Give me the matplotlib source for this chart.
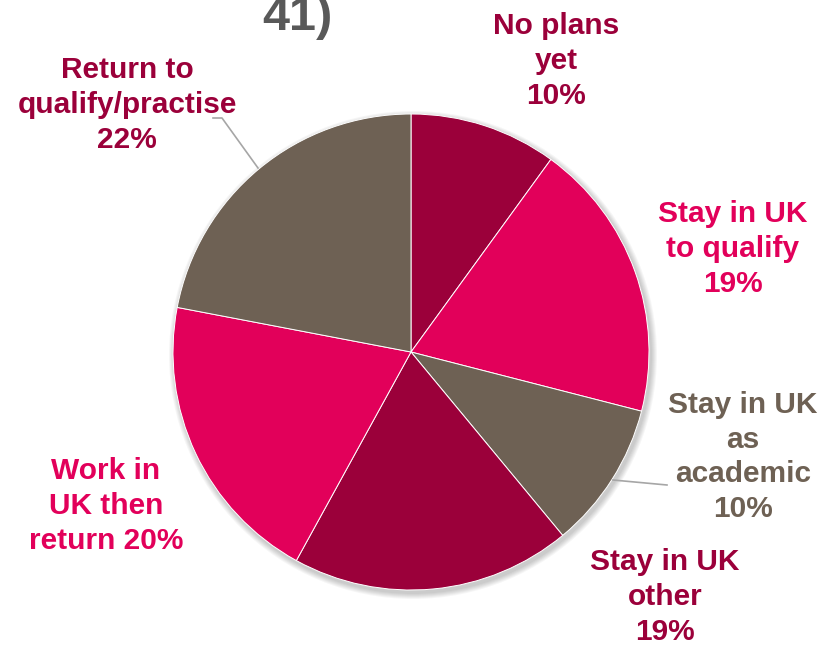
import numpy as np
import matplotlib.pyplot as plt
from matplotlib.patches import Circle

plt.rcParams["font.family"] = ["Liberation Sans", "DejaVu Sans"]

# Plans after graduating, clockwise from 12 o'clock
labels = ["No plans\nyet\n10%", "Stay in UK\nto qualify\n19%", "Stay in UK\nas\nacademic\n10%",
          "Stay in UK\nother\n19%", "Work in\nUK then\nreturn 20%", "Return to\nqualify/practise\n22%"]
shares = [10, 19, 10, 19, 20, 22]

crimson = "#9b003a"
pink = "#e2005a"
taupe = "#6e6154"
wedge_cols = [crimson, pink, taupe, crimson, pink, taupe]
text_cols = [crimson, pink, taupe, crimson, pink, crimson]

# label centres in pixel coordinates (x from left, y from top)
lab_x = [556, 733, 743, 665, 106, 127]
lab_y = [61, 249, 457, 597, 506, 105]

W, H = 825, 645
fig = plt.figure(figsize=(W / 100, H / 100), dpi=100)
ax = fig.add_axes([0, 0, 1, 1])
ax.set_xlim(0, W)
ax.set_ylim(0, H)
ax.set_aspect("equal")
ax.axis("off")

cx, cy, r = 411, H - 352, 238

# soft shadow under the pie
for k in range(6):
    ax.add_patch(Circle((cx + 2, cy - 3), r + 1 + k, color="black",
                        alpha=0.035, lw=0, zorder=1))

ax.pie(shares, colors=wedge_cols, startangle=90, counterclock=False,
       center=(cx, cy), radius=r, frame=True,
       wedgeprops=dict(edgecolor="white", linewidth=0.7, zorder=2))
ax.set_xlim(0, W)
ax.set_ylim(0, H)
ax.axis("off")

for lb, x, y, c in zip(labels, lab_x, lab_y, text_cols):
    ax.text(x, H - y, lb, color=c, fontsize=21.5, fontweight="bold",
            ha="center", va="center", linespacing=1.3, zorder=4)

# leader lines
ax.plot([613, 667], [H - 480, H - 485], color="#a6a6a6", lw=1.2, zorder=3)
ax.plot([213, 222, 258], [H - 118, H - 118, H - 168], color="#a6a6a6", lw=1.2, zorder=3)

# title, cut at the top edge
fig.text(297 / W, 1 - 30 / H, "41)", color="#595959", fontsize=35,
         fontweight="bold", ha="center", va="baseline")

fig.savefig("out.png", dpi=100)
